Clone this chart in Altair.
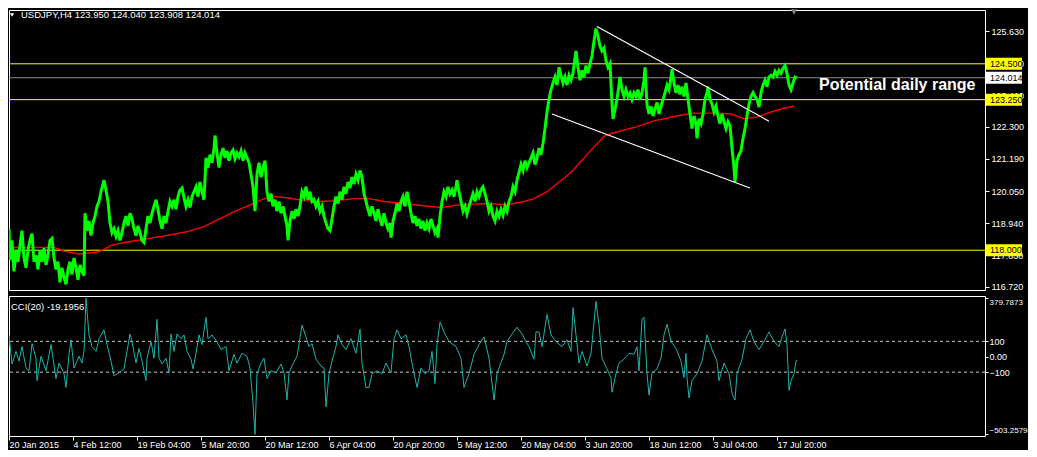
import json
import altair as alt
import pandas as pd

# ---------------- data (bar index = H4 bars from the first visible bar) ----------------
symbol = "USDJPY,H4"
ohlc = ["123.950", "124.040", "123.908", "124.014"]
cci_caption = "CCI(20) -19.1956"
annotation = "Potential daily range"

price_points = [
    (0, 118.75), (1, 117.66), (3, 118.34), (5, 117.26), (7, 118.00), (9, 117.60), (11, 118.17), (13, 118.68), (15, 117.73), (17, 117.39),
    (19, 118.00), (21, 118.34), (23, 118.58), (25, 117.60), (27, 117.83), (29, 117.33), (31, 118.00), (33, 117.60), (35, 118.07), (37, 117.49),
    (39, 117.83), (41, 118.34), (43, 118.41), (45, 117.73), (47, 117.33), (49, 117.60), (51, 116.88), (53, 117.39), (55, 117.05), (57, 116.81),
    (59, 117.33), (61, 117.60), (63, 117.15), (65, 117.73), (67, 117.39), (69, 116.97), (71, 117.49), (73, 117.26), (75, 117.12), (76, 119.29),
    (78, 118.68), (80, 119.02), (82, 118.51), (84, 118.95), (86, 119.19), (88, 119.53), (90, 119.70), (92, 120.04), (94, 120.31), (95, 120.44),
    (97, 120.10), (99, 119.70), (101, 118.95), (103, 118.61), (105, 118.75), (107, 118.48), (109, 118.68), (111, 118.34), (113, 118.61), (115, 118.95),
    (117, 119.19), (119, 118.85), (121, 119.29), (123, 119.09), (125, 118.75), (127, 118.51), (129, 118.85), (131, 118.61), (133, 118.34), (135, 118.27),
    (137, 118.75), (139, 119.19), (141, 118.95), (143, 119.29), (145, 119.53), (147, 119.76), (149, 119.43), (151, 119.02), (153, 118.75), (155, 119.19),
    (157, 118.95), (159, 119.36), (161, 119.70), (163, 119.53), (165, 119.76), (167, 119.43), (169, 119.87), (171, 120.10), (173, 120.17), (175, 119.83),
    (177, 119.53), (179, 119.76), (181, 119.49), (183, 119.87), (185, 120.04), (187, 120.21), (189, 119.87), (191, 120.38), (193, 120.04), (195, 119.76),
    (197, 121.22), (199, 120.88), (201, 121.33), (203, 121.05), (205, 121.56), (206, 122.00), (208, 121.39), (210, 120.88), (212, 121.33), (214, 121.56),
    (216, 121.22), (218, 121.46), (220, 121.12), (222, 121.39), (224, 121.49), (226, 121.19), (228, 121.39), (230, 121.26), (232, 121.46), (234, 121.12),
    (236, 121.39), (238, 121.22), (240, 121.05), (242, 120.65), (244, 120.21), (246, 119.36), (248, 120.65), (250, 121.05), (252, 120.55), (254, 120.88),
    (256, 121.12), (258, 120.04), (260, 119.70), (262, 119.97), (264, 119.53), (266, 119.76), (268, 119.36), (270, 119.70), (272, 119.29), (274, 119.53),
    (276, 119.19), (278, 118.85), (279, 118.34), (281, 119.02), (283, 119.36), (285, 119.09), (287, 119.43), (289, 119.19), (291, 119.53), (293, 120.04),
    (295, 119.87), (297, 120.21), (299, 119.76), (301, 120.04), (303, 119.70), (305, 119.76), (307, 119.53), (309, 119.70), (311, 119.36), (313, 119.53),
    (315, 119.19), (317, 118.95), (319, 118.75), (321, 118.68), (323, 119.09), (325, 119.53), (327, 119.87), (329, 119.63), (331, 120.04), (333, 119.76),
    (335, 120.21), (337, 119.97), (339, 120.38), (341, 120.17), (343, 120.55), (345, 120.31), (347, 120.65), (349, 120.44), (351, 120.78), (353, 120.55),
    (355, 119.97), (357, 119.70), (359, 119.43), (361, 119.19), (363, 119.53), (365, 119.29), (367, 119.02), (369, 119.43), (371, 119.09), (373, 118.85),
    (375, 119.29), (377, 118.95), (379, 118.75), (381, 118.95), (382, 118.44), (384, 119.02), (386, 119.29), (388, 119.63), (390, 119.36), (392, 119.70),
    (394, 119.87), (396, 119.53), (398, 120.04), (400, 119.70), (402, 119.29), (404, 118.95), (406, 119.19), (408, 118.85), (410, 119.09), (412, 118.75),
    (414, 119.02), (416, 118.68), (418, 118.95), (420, 118.75), (422, 119.09), (424, 118.85), (426, 118.61), (428, 118.75), (429, 118.44), (431, 119.19),
    (433, 119.70), (435, 120.04), (437, 119.87), (439, 120.21), (441, 119.97), (443, 120.10), (445, 119.87), (447, 120.21), (448, 120.44), (450, 120.04),
    (452, 119.70), (454, 119.36), (456, 119.53), (458, 119.26), (460, 119.53), (462, 119.76), (464, 119.97), (466, 119.70), (468, 120.04), (470, 119.87),
    (472, 120.10), (474, 120.21), (476, 119.97), (478, 119.70), (480, 119.36), (482, 119.53), (484, 119.19), (486, 119.02), (488, 119.36), (490, 119.19),
    (492, 119.43), (494, 119.22), (496, 119.53), (498, 119.36), (500, 119.70), (502, 119.87), (504, 120.21), (506, 120.04), (508, 120.44), (510, 120.71),
    (512, 120.99), (514, 120.78), (516, 121.12), (518, 120.88), (520, 121.05), (522, 121.22), (524, 121.39), (526, 120.99), (528, 121.22), (530, 121.56),
    (532, 121.33), (534, 121.73), (536, 122.24), (538, 122.82), (540, 123.26), (542, 123.60), (544, 123.83), (546, 124.04), (548, 123.76), (550, 124.38),
    (552, 124.10), (554, 123.83), (556, 124.04), (558, 123.76), (560, 124.10), (562, 123.93), (564, 124.17), (566, 124.71), (567, 124.95), (569, 124.38),
    (571, 123.93), (573, 124.27), (575, 124.04), (577, 124.44), (579, 124.17), (581, 124.51), (583, 124.78), (585, 125.29), (587, 125.73), (589, 125.46),
    (591, 125.12), (593, 124.95), (595, 125.05), (597, 124.61), (599, 124.38), (601, 124.51), (603, 123.09), (604, 122.58), (606, 122.92), (608, 123.26),
    (610, 123.76), (611, 124.04), (613, 123.60), (615, 123.36), (617, 123.60), (619, 123.36), (621, 123.49), (623, 123.26), (625, 123.49), (627, 123.36),
    (629, 123.60), (631, 123.26), (633, 123.49), (635, 123.93), (636, 124.38), (638, 123.09), (640, 122.75), (642, 123.02), (644, 122.68), (646, 122.92),
    (648, 123.15), (650, 122.75), (652, 123.02), (654, 123.26), (656, 123.49), (658, 123.76), (660, 123.60), (662, 124.04), (663, 124.31), (665, 123.83),
    (667, 123.49), (669, 123.76), (671, 123.43), (673, 123.70), (675, 123.36), (677, 123.83), (679, 123.26), (681, 122.75), (683, 122.24), (685, 122.68),
    (687, 122.41), (688, 121.90), (690, 122.58), (692, 122.41), (694, 122.75), (696, 123.26), (698, 123.49), (699, 123.70), (701, 123.26), (703, 123.09),
    (705, 122.82), (707, 123.02), (709, 122.68), (711, 122.41), (713, 122.75), (715, 122.48), (717, 122.24), (719, 122.48), (721, 122.34), (723, 121.56),
    (725, 120.88), (726, 120.38), (728, 121.12), (730, 121.33), (732, 121.46), (734, 121.90), (736, 122.24), (738, 122.68), (740, 123.09), (742, 123.36),
    (744, 123.49), (746, 123.36), (748, 123.26), (750, 122.99), (752, 123.49), (754, 123.76), (756, 123.93), (758, 123.70), (760, 124.04), (762, 124.10),
    (764, 124.04), (766, 124.24), (768, 124.10), (770, 124.27), (772, 124.17), (774, 124.34), (776, 124.44), (778, 124.17), (780, 123.76), (782, 123.60),
    (784, 123.83), (786, 124.04), (788, 124.01),
]

ma_points = [
    (0, 118.10), (45, 118.10), (55, 117.97), (70, 117.87), (88, 117.93), (95, 118.03), (102, 118.17), (115, 118.27),
    (128, 118.34), (145, 118.44), (162, 118.54), (178, 118.65), (195, 118.82), (212, 119.12), (228, 119.39), (242, 119.59),
    (255, 119.80), (265, 119.87), (278, 119.83), (295, 119.73), (312, 119.70), (328, 119.73), (345, 119.80), (360, 119.80),
    (375, 119.70), (395, 119.63), (412, 119.56), (432, 119.49), (452, 119.59), (478, 119.63), (498, 119.59), (515, 119.70),
    (525, 119.80), (538, 120.04), (562, 120.71), (582, 121.49), (595, 121.97), (602, 122.07), (628, 122.31), (645, 122.51),
    (668, 122.68), (682, 122.78), (708, 122.78), (722, 122.75), (735, 122.58), (748, 122.65), (762, 122.82), (775, 122.95),
    (785, 123.02),
]

cci_points = [
    (0, 142), (3, -47), (7, 35), (10, -28), (13, 66), (17, -73), (20, -91), (23, 85), (27, -9), (28, -155),
    (32, 3), (37, -91), (42, 79), (47, -142), (50, -41), (55, -110), (57, -199), (60, 16), (62, 110), (65, -73),
    (70, 3), (73, -41), (75, 35), (77, 379.7873), (80, 142), (83, 66), (87, 35), (90, 117), (95, 174), (98, 79),
    (102, -28), (105, -123), (110, -104), (115, -79), (118, 35), (121, 148), (123, 98), (127, -41), (130, 54), (133, -28),
    (137, -155), (138, -9), (142, 98), (145, -9), (148, 243), (150, -9), (153, -47), (157, -9), (160, -104), (162, 148),
    (165, 35), (168, 148), (172, 117), (175, 142), (178, 35), (182, -16), (184, -79), (187, 22), (190, 142), (193, 79),
    (197, 256), (199, 117), (203, 142), (208, 98), (212, 47), (217, 66), (220, -91), (225, 16), (228, -41), (233, 22),
    (238, 3), (241, -73), (244, -300), (246, -503.2579), (248, -110), (252, -41), (255, -9), (258, -142), (262, -91), (267, -104),
    (272, -47), (275, -104), (278, -281), (280, -104), (283, -60), (288, 3), (293, 205), (297, 129), (300, 66), (303, 85),
    (307, -16), (312, -60), (315, -73), (317, -325), (320, -110), (323, -28), (327, 66), (329, 142), (333, 79), (337, 47),
    (342, 117), (347, 22), (351, 180), (353, -41), (357, -199), (360, -199), (363, -110), (368, -91), (373, -110), (377, -41),
    (382, -104), (385, 117), (388, 174), (392, 117), (397, 142), (400, 66), (403, -41), (408, -199), (412, -73), (416, -110),
    (420, -91), (423, 35), (426, -174), (428, 79), (431, 224), (435, 161), (440, 98), (447, 66), (452, -9), (455, -199),
    (460, -110), (465, 16), (470, 79), (475, 129), (480, -9), (485, -281), (488, -110), (495, 16), (498, 98), (503, 148),
    (508, 192), (513, 148), (517, 98), (520, 66), (525, -16), (527, 161), (530, 161), (533, 66), (538, 274), (542, 142),
    (547, 98), (553, 66), (558, 110), (562, 35), (564, 319), (567, 142), (570, -41), (573, 35), (578, -60), (582, 22),
    (587, 360), (590, 205), (593, -9), (598, -79), (602, -136), (603, -230), (607, -110), (610, -41), (615, -16), (620, 22),
    (625, 16), (628, 66), (630, -91), (633, 243), (635, 256), (638, -110), (640, -249), (643, -104), (648, -79), (652, -9),
    (655, 142), (658, 211), (662, 98), (667, 54), (672, -28), (675, -136), (677, 22), (678, -136), (680, -268), (683, -155),
    (688, -110), (693, -28), (698, 142), (703, 47), (708, -28), (710, -155), (715, -41), (720, -110), (723, -237), (726, -281),
    (728, -110), (733, -16), (737, 117), (741, 174), (745, 98), (750, 47), (755, 98), (760, 161), (765, 98), (770, 66),
    (773, 129), (776, 180), (778, 79), (780, -218), (782, -155), (785, -110), (787, -28), (788, -19.1956),
]

trend_name = ["upper", "upper", "lower", "lower"]
trend_bar = [588, 760, 543, 741]
trend_val = [125.80, 122.50, 122.75, 120.17]

level_vals = [124.500, 123.250, 118.000]
bid_val = 124.014
annot_bar = 810
annot_price = 123.76
shift_marker_bar = 785

price_ticks = [125.630, 124.520, 123.410, 122.300, 121.190, 120.050, 118.940, 117.830, 116.720]
cci_levels = [100, -100]
cci_ticks = [379.7873, 100, 0, -100, -503.2579]
time_bars = [0, 64, 128, 192, 256, 320, 384, 448, 512, 576, 640, 704, 768]
time_labels = ["20 Jan 2015", "4 Feb 12:00", "19 Feb 04:00", "5 Mar 20:00", "20 Mar 12:00",
               "6 Apr 04:00", "20 Apr 20:00", "5 May 12:00", "20 May 04:00", "3 Jun 20:00",
               "18 Jun 12:00", "3 Jul 04:00", "17 Jul 20:00"]

# ---------------- layout ----------------
W = 976
H1 = 280
H2 = 140
FONT = "Liberation Sans"

price_df = pd.DataFrame(price_points, columns=["bar", "price"])
ma_df = pd.DataFrame(ma_points, columns=["bar", "price"])
cci_df = pd.DataFrame(cci_points, columns=["bar", "cci"])
trend_df = pd.DataFrame({"name": trend_name, "bar": trend_bar, "price": trend_val})
level_df = pd.DataFrame({"price": level_vals})
bid_df = pd.DataFrame({"price": [bid_val]})
annot_df = pd.DataFrame({"bar": [annot_bar], "price": [annot_price], "t": [annotation]})
title_df = pd.DataFrame({"t": [symbol + "  " + " ".join(ohlc)]})
marker_df = pd.DataFrame({"bar": [shift_marker_bar]})
cci_cap_df = pd.DataFrame({"t": [cci_caption]})
cci_lvl_df = pd.DataFrame({"cci": cci_levels})

xsc = alt.Scale(domain=[0, W], nice=False, zero=False)
ysc = alt.Scale(domain=[116.613, 126.376], nice=False, zero=False)
csc = alt.Scale(domain=[-514.2, 394.3], nice=False, zero=False)

price_axis = alt.Axis(orient="right", values=price_ticks, format=".3f", title=None,
                      tickSize=4, labelPadding=2, labelOverlap=False)
X = alt.X("bar:Q", scale=xsc, axis=None)
Y = alt.Y("price:Q", scale=ysc, axis=price_axis)

levels = alt.Chart(level_df).mark_rule(color="#FFFF00", strokeWidth=1).encode(y=Y)
bid = alt.Chart(bid_df).mark_rule(color="#8C8C8C", strokeWidth=1).encode(y=Y)
price_line = alt.Chart(price_df).mark_line(color="#00FF00", strokeWidth=3, clip=True).encode(x=X, y=Y)
ma_line = alt.Chart(ma_df).mark_line(color="#FF0000", strokeWidth=1.4, clip=True).encode(x=X, y=Y)
trend = alt.Chart(trend_df).mark_line(color="white", strokeWidth=1.2, clip=True).encode(
    x=X, y=Y, detail="name:N")
annot = alt.Chart(annot_df).mark_text(align="left", baseline="middle", color="white", font=FONT,
                                      fontSize=16, fontWeight="bold").encode(x=X, y=Y, text="t:N")
yellow_tags = alt.Chart(level_df).mark_rect(color="#FFFF00", yOffset=-6, y2Offset=6).encode(
    x=alt.value(W + 1), x2=alt.value(W + 37), y=Y, y2=alt.Y2("price:Q"))
white_tag = alt.Chart(bid_df).mark_rect(color="white", yOffset=-6, y2Offset=6).encode(
    x=alt.value(W + 1), x2=alt.value(W + 37), y=Y, y2=alt.Y2("price:Q"))
tag_text = alt.Chart(pd.concat([level_df, bid_df])).mark_text(
    align="left", baseline="middle", color="black", font=FONT, fontSize=9).encode(
    x=alt.value(W + 5), y=Y, text=alt.Text("price:Q", format=".3f"))
title_txt = alt.Chart(title_df).mark_text(align="left", baseline="middle", color="white",
                                          font=FONT, fontSize=9.5).encode(
    x=alt.value(12), y=alt.value(5), text="t:N")
title_tri = alt.Chart(title_df).mark_point(shape="triangle-down", filled=True, color="white",
                                           size=18, opacity=1).encode(
    x=alt.value(3), y=alt.value(5))
shift_marker = alt.Chart(marker_df).mark_point(shape="triangle-down", filled=True, color="#808080",
                                               size=40, opacity=1).encode(
    x=X, y=alt.value(2))

main = alt.layer(levels, bid, ma_line, price_line, trend, annot, yellow_tags, white_tag,
                 tag_text, title_txt, title_tri, shift_marker).properties(width=W, height=H1)

# ---------------- CCI panel ----------------
time_expr = "{}[indexof({}, datum.value)]".format(json.dumps(time_labels), json.dumps(time_bars))
cci_label_expr = ("datum.value == 0 ? '0.00' : (abs(datum.value) == 100 ? format(datum.value, 'd') "
                  ": format(datum.value, '.4f'))")
Xc = alt.X("bar:Q", scale=xsc, axis=alt.Axis(orient="bottom", values=time_bars, labelExpr=time_expr,
                                             labelAlign="left", labelPadding=0, tickSize=4,
                                             labelFlush=False, labelOverlap=False, title=None))
Yc = alt.Y("cci:Q", scale=csc, axis=alt.Axis(
    orient="right", values=cci_ticks, labelExpr=cci_label_expr, title=None, tickSize=3,
    labelPadding=1, labelOverlap=False,
    labelFontSize={"condition": {"test": "abs(datum.value) > 300", "value": 8}, "value": 9},
    labelBaseline={"condition": [{"test": "datum.value > 300", "value": "top"},
                                 {"test": "datum.value < -300", "value": "bottom"}],
                   "value": "middle"}))

cci_lvls = alt.Chart(cci_lvl_df).mark_rule(color="#C8C8C8", strokeDash=[3, 3], strokeWidth=1).encode(y=Yc)
cci_line = alt.Chart(cci_df).mark_line(color="#20B2AA", strokeWidth=1, clip=True).encode(x=Xc, y=Yc)
cci_cap = alt.Chart(cci_cap_df).mark_text(align="left", baseline="middle", color="white",
                                          font=FONT, fontSize=9.5).encode(
    x=alt.value(2), y=alt.value(11), text="t:N")

cci = alt.layer(cci_lvls, cci_line, cci_cap).properties(width=W, height=H2)

chart = alt.vconcat(main, cci, spacing=2).properties(
    padding=0, background="black"
).configure_view(
    stroke="white", strokeWidth=1
).configure_axis(
    labelFont=FONT, labelFontSize=9, labelColor="white", tickColor="white",
    domain=False, grid=False
)

chart.save("out.html", embed_options={"renderer": "svg", "actions": False})
